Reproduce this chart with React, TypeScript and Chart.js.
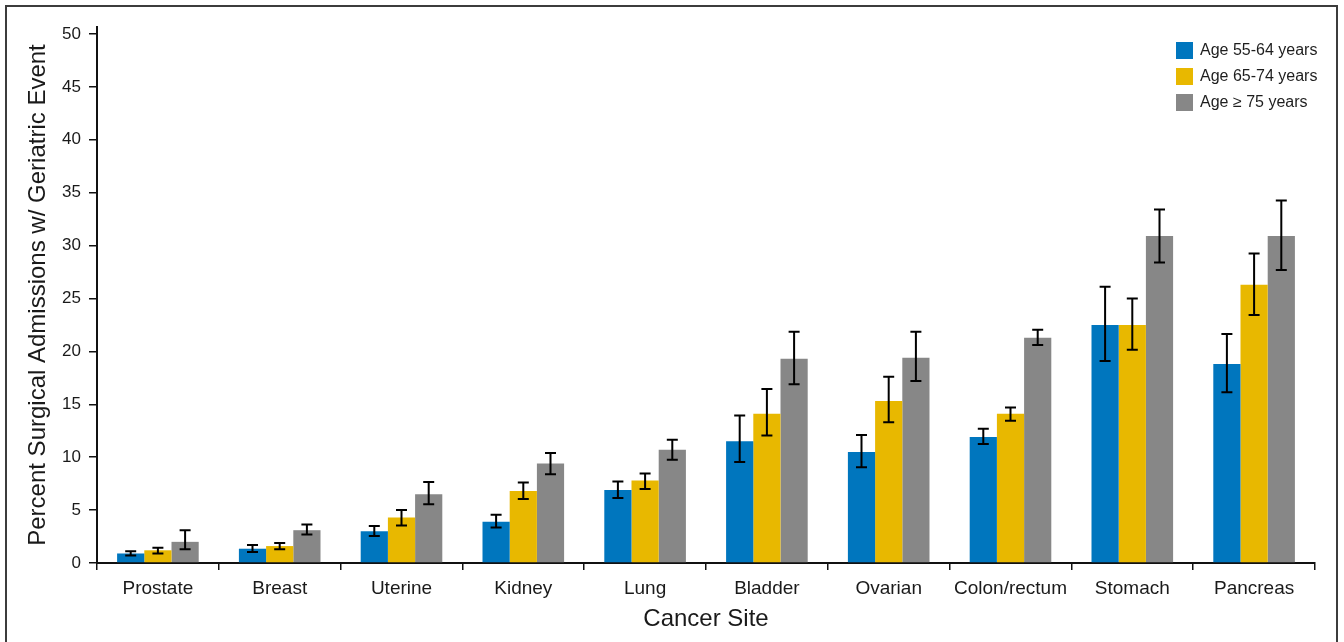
import React, { useEffect, useRef } from "react";
import { Chart, registerables } from "chart.js";

Chart.register(...registerables);

const categories = ["Prostate", "Breast", "Uterine", "Kidney", "Lung", "Bladder", "Ovarian", "Colon/rectum", "Stomach", "Pancreas"];
const seriesLabels = ["Age 55-64 years", "Age 65-74 years", "Age \u2265 75 years"];
const seriesColors = ["#0076BE", "#E8B800", "#878787"];

const age55 = [0.9, 1.35, 3.0, 3.9, 6.9, 11.5, 10.5, 11.9, 22.5, 18.8];
const age55Low = [0.7, 1.05, 2.55, 3.35, 6.15, 9.55, 9.05, 11.25, 19.1, 16.15];
const age55High = [1.1, 1.7, 3.5, 4.55, 7.7, 13.95, 12.1, 12.7, 26.1, 21.65];

const age65 = [1.2, 1.6, 4.3, 6.8, 7.8, 14.1, 15.3, 14.1, 22.5, 26.3];
const age65Low = [0.9, 1.3, 3.55, 6.05, 7.0, 12.05, 13.3, 13.45, 20.15, 23.45];
const age65High = [1.45, 1.9, 5.0, 7.6, 8.45, 16.45, 17.6, 14.7, 25.0, 29.25];

const age75 = [2.0, 3.1, 6.5, 9.4, 10.7, 19.3, 19.4, 21.3, 30.9, 30.9];
const age75Low = [1.3, 2.7, 5.55, 8.4, 9.75, 16.9, 17.2, 20.6, 28.4, 27.7];
const age75High = [3.1, 3.65, 7.65, 10.4, 11.65, 21.85, 21.85, 22.05, 33.4, 34.25];

const yTickValues = [0, 5, 10, 15, 20, 25, 30, 35, 40, 45, 50];

const REGULAR = '"Liberation Sans", Arial, sans-serif';

const framePlugin = {
  id: "frame",
  beforeDraw(chart: any) {
    const ctx = chart.ctx;
    ctx.save();
    ctx.fillStyle = "#ffffff";
    ctx.fillRect(0, 0, chart.width, chart.height);
    ctx.restore();
  },
  afterDraw(chart: any) {
    const ctx = chart.ctx;
    ctx.save();
    ctx.strokeStyle = "#3c3c3c";
    ctx.lineWidth = 2;
    ctx.strokeRect(6, 6, 1331, 720);
    ctx.restore();
  },
};

const errorBarPlugin = {
  id: "errorBars",
  afterDatasetsDraw(chart: any) {
    const ctx = chart.ctx;
    const yScale = chart.scales.y;
    ctx.save();
    ctx.strokeStyle = "#000000";
    ctx.lineWidth = 2;
    chart.data.datasets.forEach((ds: any, di: number) => {
      const meta = chart.getDatasetMeta(di);
      meta.data.forEach((bar: any, i: number) => {
        const lo = ds.errLow[i];
        const hi = ds.errHigh[i];
        const x = bar.x;
        const yLo = yScale.getPixelForValue(lo);
        const yHi = yScale.getPixelForValue(hi);
        const cap = 5.5;
        ctx.beginPath();
        ctx.moveTo(x, yLo);
        ctx.lineTo(x, yHi);
        ctx.moveTo(x - cap, yHi);
        ctx.lineTo(x + cap, yHi);
        ctx.moveTo(x - cap, yLo);
        ctx.lineTo(x + cap, yLo);
        ctx.stroke();
      });
    });
    ctx.restore();
  },
};

const legendPlugin = {
  id: "customLegend",
  afterDraw(chart: any) {
    const ctx = chart.ctx;
    ctx.save();
    ctx.font = `16px ${REGULAR}`;
    ctx.textBaseline = "middle";
    ctx.textAlign = "left";
    chart.data.datasets.forEach((ds: any, i: number) => {
      const y = 42 + i * 26;
      ctx.fillStyle = ds.backgroundColor;
      ctx.fillRect(1176, y, 17, 17);
      ctx.fillStyle = "#1e1e1e";
      ctx.fillText(ds.label, 1200, y + 9);
    });
    ctx.restore();
  },
};

export default function App() {
  const canvasRef = useRef<HTMLCanvasElement | null>(null);

  useEffect(() => {
    if (!canvasRef.current) return;
    const values = [age55, age65, age75];
    const lows = [age55Low, age65Low, age75Low];
    const highs = [age55High, age65High, age75High];
    const chart = new Chart(canvasRef.current, {
      type: "bar",
      data: {
        labels: categories,
        datasets: seriesLabels.map((label, i) => ({
          label,
          data: values[i],
          errLow: lows[i],
          errHigh: highs[i],
          backgroundColor: seriesColors[i],
          borderWidth: 0,
          categoryPercentage: 0.67,
          barPercentage: 1.0,
        })) as any,
      },
      options: {
        responsive: false,
        animation: false,
        layout: { padding: { left: 0, top: 27, right: 29, bottom: 0 } },
        plugins: {
          legend: { display: false },
          tooltip: { enabled: false },
        },
        scales: {
          x: {
            grid: {
              drawOnChartArea: false,
              offset: true,
              color: "#111111",
              lineWidth: 1.5,
              tickLength: 7,
            },
            border: { color: "#111111", width: 2 },
            ticks: {
              color: "#1a1a1a",
              font: { family: REGULAR, size: 19 },
              padding: 7,
              maxRotation: 0,
              autoSkip: false,
            },
            title: {
              display: true,
              text: "Cancer Site",
              color: "#1a1a1a",
              font: { family: REGULAR, size: 24 },
              padding: { top: 0, bottom: 8 },
            },
            afterFit(scale: any) {
              scale.height = 79;
            },
          },
          y: {
            min: 0,
            max: 50.66,
            grid: {
              drawOnChartArea: false,
              color: "#111111",
              lineWidth: 1.5,
              tickLength: 8,
            },
            border: { color: "#111111", width: 2 },
            ticks: {
              stepSize: 5,
              includeBounds: false,
              color: "#1a1a1a",
              font: { family: REGULAR, size: 17 },
              padding: 8,
            },
            afterBuildTicks(scale: any) {
              scale.ticks = yTickValues.map((v) => ({ value: v }));
            },
            title: {
              display: true,
              text: "Percent Surgical Admissions w/ Geriatric Event",
              color: "#1a1a1a",
              font: { family: REGULAR, size: 24 },
              padding: { top: 24, bottom: 0 },
            },
            afterFit(scale: any) {
              scale.width = 97;
            },
          },
        },
      } as any,
      plugins: [framePlugin, errorBarPlugin, legendPlugin],
    });
    return () => chart.destroy();
  }, []);

  return (
    <div style={{ position: "absolute", left: 0, top: 0, width: 1344, height: 642 }}>
      <canvas ref={canvasRef} width={1344} height={642} style={{ display: "block" }} />
    </div>
  );
}
